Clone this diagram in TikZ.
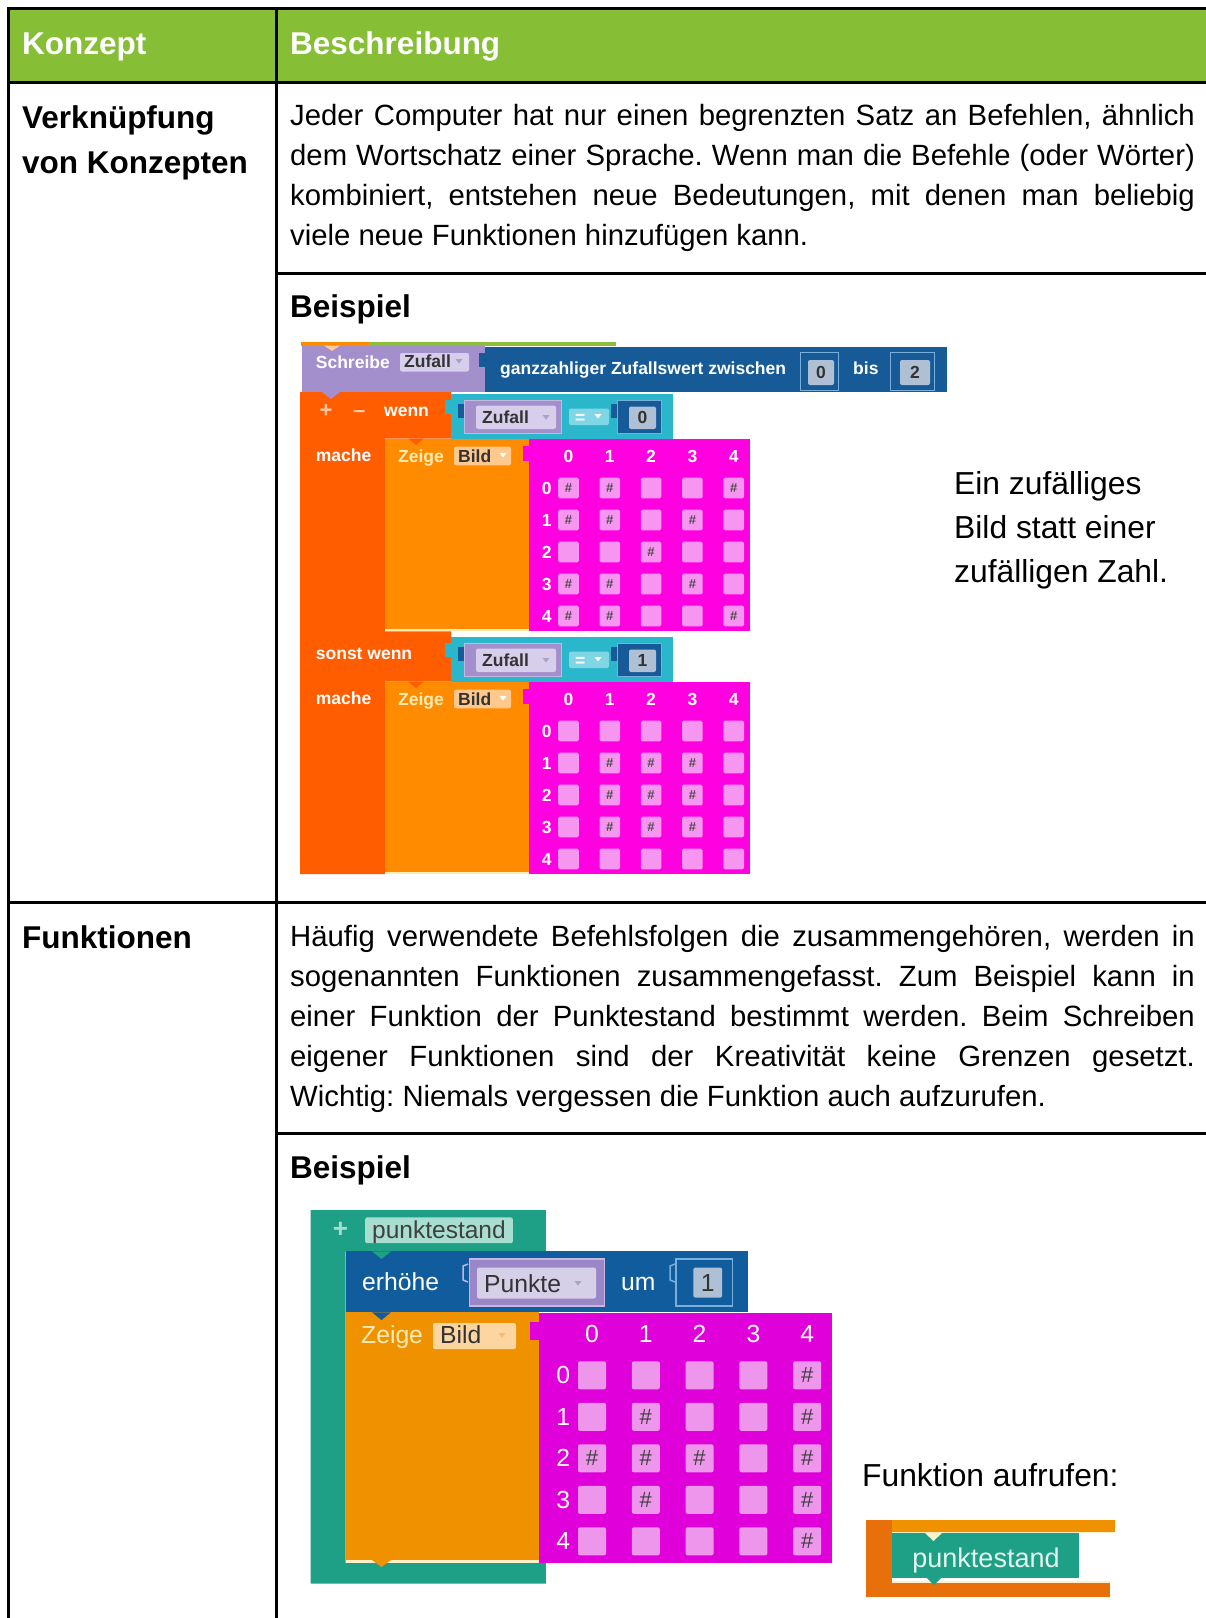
\documentclass[tikz,border=0pt]{standalone}
\usepackage{fontspec}
\setmainfont{Liberation Sans}
\frenchspacing

\definecolor{kopfgruen}{RGB}{134,190,53}
\definecolor{lila}{RGB}{163,143,203}
\definecolor{lilahell}{RGB}{214,206,234}
\definecolor{lilarand}{RGB}{196,184,226}
\definecolor{lilapfeil}{RGB}{170,160,200}
\definecolor{dunkelblau}{RGB}{22,90,152}
\definecolor{slotrand}{RGB}{120,175,220}
\definecolor{zahlfeld}{RGB}{176,192,212}
\definecolor{wennrot}{RGB}{255,93,0}
\definecolor{tuerkis}{RGB}{42,183,204}
\definecolor{tuerkishell}{RGB}{128,214,228}
\definecolor{zeigeorange}{RGB}{255,140,0}
\definecolor{zeigegelb}{RGB}{255,236,180}
\definecolor{bildfeld}{RGB}{255,200,140}
\definecolor{magentaA}{RGB}{255,0,224}
\definecolor{zelleA}{RGB}{247,150,240}
\definecolor{streifengruen}{RGB}{140,190,60}
\definecolor{plusfarbe}{RGB}{255,200,160}
\definecolor{teal}{RGB}{30,160,135}
\definecolor{tealfeld}{RGB}{168,222,207}
\definecolor{tealtext}{RGB}{230,245,240}
\definecolor{blauB}{RGB}{16,92,156}
\definecolor{lilaB}{RGB}{155,135,200}
\definecolor{lilahellB}{RGB}{214,207,232}
\definecolor{zeigeB}{RGB}{240,145,0}
\definecolor{bildfeldB}{RGB}{252,213,160}
\definecolor{magentaB}{RGB}{224,0,218}
\definecolor{zelleB}{RGB}{238,150,236}
\definecolor{aufrufrot}{RGB}{232,112,10}
\definecolor{hellgelb}{RGB}{255,240,200}

\newcommand\kopffont{\fontsize{31.5}{45}\selectfont\bfseries}
\newcommand\fliesstext{\fontsize{29.3}{40.2}\selectfont}
\newcommand\grossfont{\fontsize{31.8}{44}\selectfont}
\newcommand\blockfont{\fontsize{17.5}{20}\selectfont\bfseries}
\newcommand\blockfontB{\fontsize{24.7}{28}\selectfont}

% kleines Dropdown-Dreieck
\newcommand\dreieck[3]{\fill[#3] (#1,#2) ++(-3.5,-2) -- ++(7,0) -- ++(-3.5,4.5) -- cycle;}

% Bedingung + mache-Teil im ersten Bild
\newcommand\wennteil[4]{%
\begin{scope}[shift={(0,#1)}]
  \fill[tuerkis] (451,394) rectangle (672.7,438.5);
  \fill[tuerkis] (445,400) rectangle (452,414);
  \fill[dunkelblau] (458,404) rectangle (465,418);
  \filldraw[fill=lila,draw=lilarand,line width=1pt] (464,400.3) rectangle (561,433.3);
  \fill[lilahell,rounded corners=2pt] (476,405.5) rectangle (556,429);
  \node[bdunkel] (#2var) at (482,423.5) {Zufall};
  \dreieck{546}{417}{lilapfeil}
  \fill[tuerkishell,rounded corners=2pt] (569,408.5) rectangle (609,425);
  \node[btext] (#2gleich) at (575,423) {=};
  \dreieck{598}{416}{white}
  \fill[dunkelblau] (611,404) rectangle (618,418);
  \filldraw[fill=dunkelblau,draw=slotrand,line width=1pt] (617,400.3) rectangle (661,433.3);
  \fill[zahlfeld,rounded corners=2pt] (629,406.5) rectangle (656,429);
  \node[bdunkel,anchor=base] (#2wert) at (642.5,423.5) {#3};
  \node[btext] (#2mache) at (315.7,461) {mache};
  \fill[zeigeorange] (384.8,438.5) rectangle (529.3,631.4);
  \fill[zeigegelb] (384.8,629.4) rectangle (529.3,631.4);
  \fill[wennrot] (408,438.5) -- (424,438.5) -- (416,445) -- cycle;
  \node[btext,text=zeigegelb] (#2zeige) at (398,462.5) {Zeige};
  \fill[bildfeld,rounded corners=2pt] (454,446.7) rectangle (511,465.3);
  \node[bdunkel] (#2bild) at (458,462) {Bild};
  \dreieck{503}{455}{white}
  \fill[magentaA] (523,446) rectangle (530,461);
  \fill[magentaA] (529.3,438.5) rectangle (750,631.4);
  \foreach \c in {0,...,4}
    \node[zifferA] (#2k\c) at ({568.5+41.3*\c},456) {\c};
  \foreach \reihe [count=\r from 0] in {#4} {
    \node[zifferA] (#2r\r) at (546.8,{488+32*\r}) {\r};
    \foreach \v [count=\c from 0] in \reihe
      \node[zelleA] (#2z\r\c) at ({568.5+41.3*\c},{488+32*\r}) {\ifnum\v=1 \#\fi};
  }
\end{scope}}

\begin{document}
\begin{tikzpicture}[x=1pt,y=-1pt,
  linie/.style={line width=3pt},
  kopf/.style={anchor=base west,inner sep=0pt,text=white,font=\kopffont},
  fett/.style={anchor=base west,inner sep=0pt,font=\kopffont,align=left},
  textzeile/.style={anchor=base west,inner sep=0pt,font=\fliesstext},
  gross/.style={anchor=base west,inner sep=0pt,font=\grossfont},
  btext/.style={anchor=base west,inner sep=0pt,font=\blockfont,text=white},
  bdunkel/.style={anchor=base west,inner sep=0pt,font=\blockfont,text=black!80},
  zifferA/.style={inner sep=0pt,font=\blockfont,text=white},
  zelleA/.style={fill=zelleA,minimum size=20.6pt,inner sep=0pt,rounded corners=1.5pt,
    font=\fontsize{13}{13}\selectfont\bfseries,text=black!70},
  btextB/.style={anchor=base west,inner sep=0pt,font=\blockfontB,text=white},
  bdunkelB/.style={anchor=base west,inner sep=0pt,font=\blockfontB,text=black!80},
  zifferB/.style={inner sep=0pt,font=\blockfontB,text=white},
  zelleB/.style={fill=zelleB,minimum size=28pt,inner sep=0pt,rounded corners=2pt,
    font=\fontsize{22}{22}\selectfont,text=black!75}]

\useasboundingbox (0,0) rectangle (1206,1618);
\fill[white] (0,0) rectangle (1206,1618);

% Tabelle
\fill[kopfgruen] (8,8) rectangle (1206,82);
\draw[linie] (8,1618) -- (8,8) -- (1206,8);
\draw[linie] (8,82) -- (1206,82);
\draw[linie] (276,8) -- (276,1618);
\draw[linie] (276,273) -- (1206,273);
\draw[linie] (8,902.5) -- (1206,902.5);
\draw[linie] (276,1133.5) -- (1206,1133.5);

\node[kopf] (konzept) at (22,54.7) {Konzept};
\node[kopf] (beschreibung) at (290,54.7) {Beschreibung};

\node[fett] (verkn) at (22,128) {Verknüpfung};
\node[fett] (vonk) at (22,173) {von Konzepten};
\foreach \zl [count=\i from 0] in {{Jeder Computer hat nur einen begrenzten Satz an Befehlen, ähnlich},
    {dem Wortschatz einer Sprache. Wenn man die Befehle (oder Wörter)},
    {kombiniert, entstehen neue Bedeutungen, mit denen man beliebig}}
  \node[textzeile] (verk\i) at (290,{125.3+40.2*\i}) {\makebox[904.7pt][s]{\zl}};
\node[textzeile] (verk3) at (290,245.9) {viele neue Funktionen hinzufügen kann.};
\node[fett] (beispiel1) at (290,317.7) {Beispiel};

\node[fett] (funktionen) at (22,948.5) {Funktionen};
\foreach \zl [count=\i from 0] in {{Häufig verwendete Befehlsfolgen die zusammengehören, werden in},
    {sogenannten Funktionen zusammengefasst. Zum Beispiel kann in},
    {einer Funktion der Punktestand bestimmt werden. Beim Schreiben},
    {eigener Funktionen sind der Kreativität keine Grenzen gesetzt.}}
  \node[textzeile] (fkt\i) at (290,{946.5+40*\i}) {\makebox[904.7pt][s]{\zl}};
\node[textzeile] (fkt4) at (290,1106.5) {Wichtig: Niemals vergessen die Funktion auch aufzurufen.};
\node[fett] (beispiel2) at (290,1178) {Beispiel};

% Bild 1: Zufallsbild
\fill[zeigeorange] (301,342) rectangle (370,346);
\fill[streifengruen] (370,342) rectangle (616,346);
\fill[wennrot] (300,392) -- (451,392) -- (451,438.5) -- (384.8,438.5) -- (384.8,631.4)
  -- (451,631.4) -- (451,681.5) -- (384.8,681.5) -- (384.8,874) -- (300,874) -- cycle;
\fill[lila] (302,345.6) rectangle (485,392);
\fill[plusfarbe] (324,345.6) -- (340,345.6) -- (332,351) -- cycle;
\fill[lila] (322,392) -- (340,392) -- (331,399) -- cycle;
\fill[dunkelblau] (485,347) rectangle (947,392);
\fill[dunkelblau] (479,353) rectangle (486,367);
\node[btext] (schreibe) at (315.7,368) {Schreibe};
\fill[lilahell,rounded corners=2pt] (400,353) rectangle (469,371.5);
\node[bdunkel] (zufall0) at (404,367.5) {Zufall};
\dreieck{459}{361}{lilapfeil}
\node[btext] (zufallswert) at (500,374.5) {ganzzahliger Zufallswert zwischen};
\filldraw[fill=dunkelblau,draw=slotrand,line width=1pt] (800,352) rectangle (838,390);
\fill[zahlfeld,rounded corners=2pt] (808,360) rectangle (834,385);
\node[bdunkel,anchor=base] (von) at (821,378.5) {0};
\node[btext] (bis) at (853,374.5) {bis};
\filldraw[fill=dunkelblau,draw=slotrand,line width=1pt] (890,352) rectangle (934,390);
\fill[zahlfeld,rounded corners=2pt] (900,360) rectangle (930,385);
\node[bdunkel,anchor=base] (bisw) at (915,378.5) {2};
\node[btext,text=plusfarbe,font=\fontsize{22}{22}\selectfont\bfseries] (plus) at (319.5,417) {+};
\node[btext,text=plusfarbe,font=\fontsize{22}{22}\selectfont\bfseries] (minus) at (353,417) {–};
\node[btext] (wenn) at (384,416) {wenn};
\node[btext] (sonst) at (315.7,659) {sonst wenn};
\wennteil{0}{a}{0}{{1,1,0,0,1},{1,1,0,1,0},{0,0,1,0,0},{1,1,0,1,0},{1,1,0,0,1}}
\wennteil{243}{b}{1}{{0,0,0,0,0},{0,1,1,1,0},{0,1,1,1,0},{0,1,1,1,0},{0,0,0,0,0}}

\node[gross] (ein1) at (954,494) {Ein zufälliges};
\node[gross] (ein2) at (954,538) {Bild statt einer};
\node[gross] (ein3) at (954,582) {zufälligen Zahl.};

% Bild 2: Funktion punktestand
\fill[teal] (310.5,1210.2) -- (545.8,1210.2) -- (545.8,1251.4) -- (345.6,1251.4) -- (345.6,1563)
  -- (545.8,1563) -- (545.8,1583.6) -- (310.5,1583.6) -- cycle;
\node[inner sep=0pt,font=\fontsize{26}{26}\selectfont\bfseries,text=tealfeld] (plusB) at (340.5,1230) {+};
\fill[tealfeld,rounded corners=2pt] (365.2,1217.4) rectangle (512.8,1243.2);
\node[anchor=base west,inner sep=0pt,font=\fontsize{24.5}{26}\selectfont,text=black!75] (pdef) at (372,1238.5) {punktestand};
\fill[blauB] (345.6,1251.4) rectangle (748,1312.3);
\fill[teal] (372,1251.4) -- (391,1251.4) -- (381.5,1259) -- cycle;
\node[btextB] (erhoehe) at (362,1290) {erhöhe};
\draw[lilarand,line width=1.5pt] (468,1264) -- (463,1266) -- (463,1280) -- (468,1282);
\filldraw[fill=lilaB,draw=lilarand,line width=1.5pt] (469.4,1259) rectangle (604.6,1306);
\fill[lilahellB,rounded corners=2pt] (477,1267.5) rectangle (596,1298.5);
\node[bdunkelB] (punkte) at (484,1292) {Punkte};
\dreieck{578}{1283}{lilapfeil}
\node[btextB] (um) at (621,1290) {um};
\draw[slotrand,line width=1.5pt] (675,1264) -- (670,1266) -- (670,1280) -- (675,1282);
\filldraw[fill=blauB,draw=slotrand,line width=1.5pt] (675.8,1259) rectangle (732.5,1306);
\fill[zahlfeld,rounded corners=2pt] (693.3,1267.6) rectangle (722.2,1297.5);
\node[bdunkelB,anchor=base] (eins) at (707.7,1291.5) {1};
\fill[zeigeB] (345.6,1312.3) rectangle (538.5,1560);
\fill[hellgelb] (345.6,1560) rectangle (538.5,1563);
\fill[blauB] (372,1312.3) -- (391,1312.3) -- (381.5,1320) -- cycle;
\fill[zeigeB] (372,1560) -- (391,1560) -- (381.5,1567) -- cycle;
\node[btextB,text=zeigegelb] (zeigeB) at (361,1343) {Zeige};
\fill[bildfeldB,rounded corners=2pt] (433,1323) rectangle (516,1349);
\node[bdunkelB] (bildB) at (440,1343) {Bild};
\dreieck{502}{1335}{zeigeB!60}
\fill[magentaB] (530,1322) rectangle (539,1340);
\fill[magentaB] (538.5,1313) rectangle (831.5,1563);
\foreach \c in {0,...,4}
  \node[zifferB] (pk\c) at ({592+53.8*\c},1334) {\c};
\foreach \reihe [count=\r from 0] in {{0,0,0,0,1},{0,1,0,0,1},{1,1,1,0,1},{0,1,0,0,1},{0,0,0,0,1}} {
  \node[zifferB] (pr\r) at (563.3,{1375.3+41.5*\r}) {\r};
  \foreach \v [count=\c from 0] in \reihe
    \node[zelleB] (pz\r\c) at ({592+53.8*\c},{1375.3+41.5*\r}) {\ifnum\v=1 \#\fi};
}

\node[gross] (aufrufen) at (862,1486) {Funktion aufrufen:};
\fill[aufrufrot] (866,1520) rectangle (891.7,1597);
\fill[zeigeB] (891.7,1520) rectangle (1115,1531.5);
\fill[hellgelb] (891.7,1531.5) rectangle (1115,1533);
\fill[hellgelb] (891.7,1580.5) rectangle (1110,1583);
\fill[aufrufrot] (891.7,1583) rectangle (1110,1597);
\fill[teal] (891.7,1533) rectangle (1079.3,1578);
\fill[hellgelb] (925,1533) -- (942,1533) -- (933.5,1541) -- cycle;
\fill[teal] (927,1578) -- (941,1578) -- (934,1585) -- cycle;
\node[anchor=base,inner sep=0pt,font=\fontsize{27}{27}\selectfont,text=tealtext] (aufruf) at (986,1567) {punktestand};
\end{tikzpicture}
\end{document}
